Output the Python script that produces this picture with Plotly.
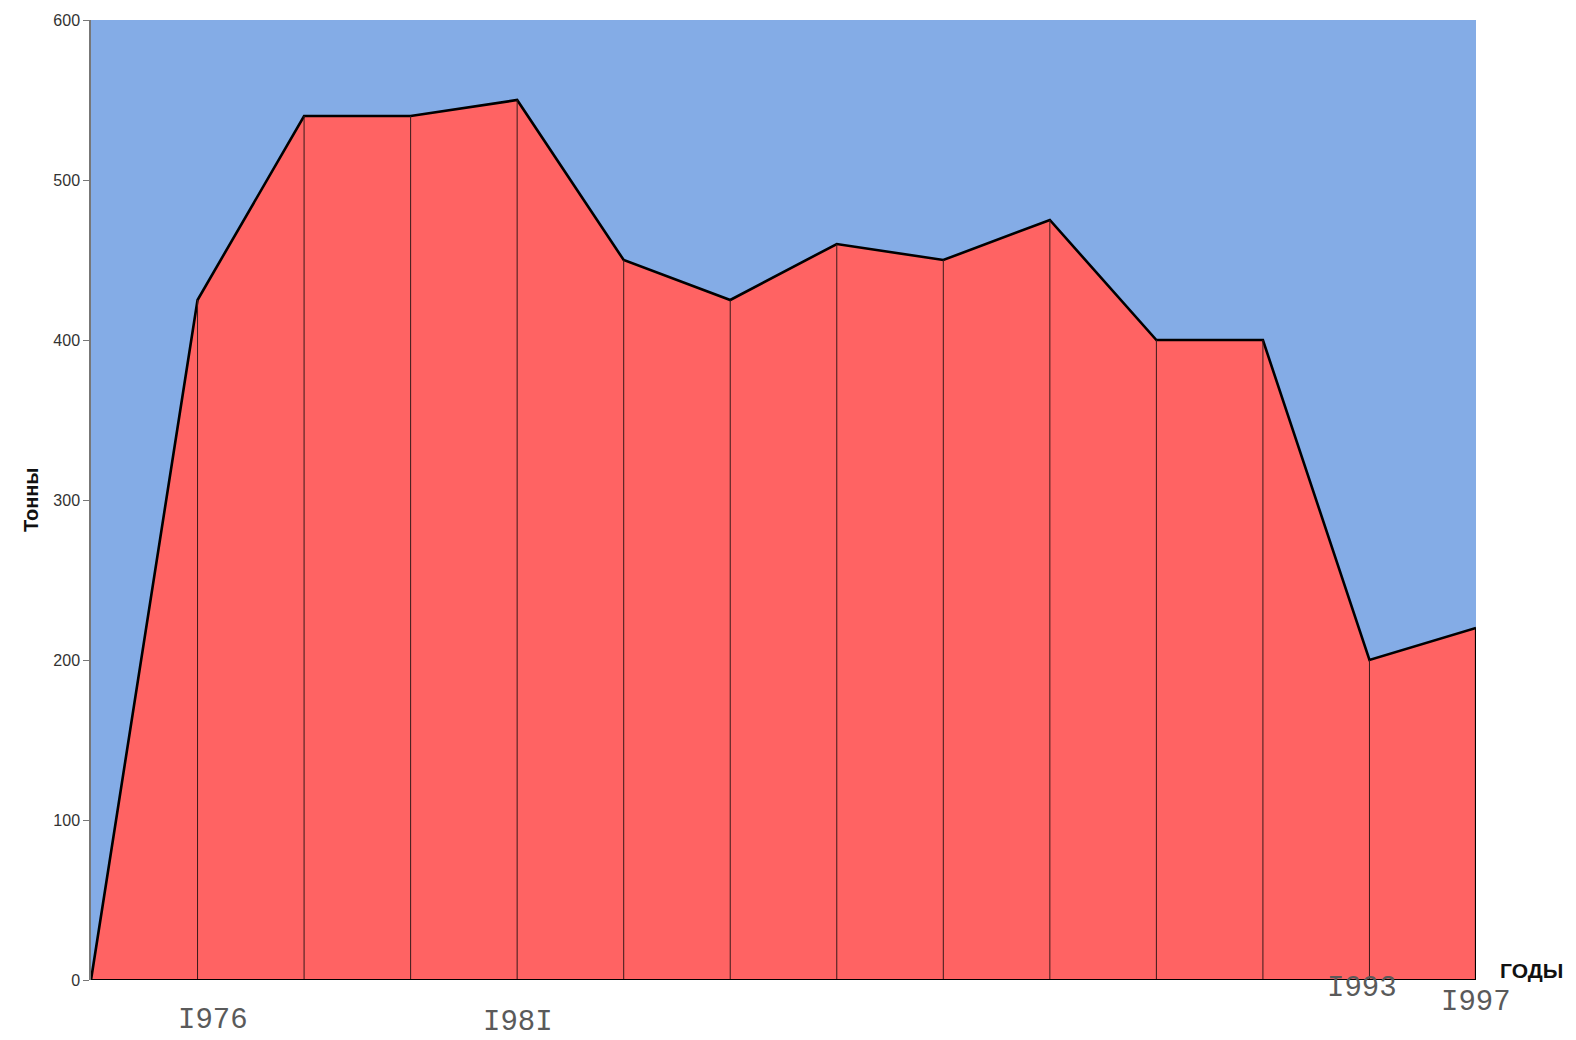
import plotly.graph_objects as go

# Catch per season, tonnes (one point per survey year on the chart)
point_index = [0, 1, 2, 3, 4, 5, 6, 7, 8, 9, 10, 11, 12, 13]
catch_tonnes = [0, 425, 540, 540, 550, 450, 425, 460, 450, 475, 400, 400, 200, 220]

# Typewritten year marks under the axis
year_labels = ["I976", "I98I", "I993", "I997"]
year_label_pos = [1.145, 4.01, 11.93, 13.0]
year_label_dy = [-40, -42, -8, -22]

y_ticks = [0, 100, 200, 300, 400, 500, 600]

fig = go.Figure()

# Filled area with thick outline
fig.add_trace(go.Scatter(
    x=point_index, y=catch_tonnes, mode="lines",
    line=dict(color="black", width=2.6),
    fill="tozeroy", fillcolor="#FF6363",
    hoverinfo="skip", showlegend=False,
))

# Thin drop lines at each point
drop_x, drop_y = [], []
for xi, yi in zip(point_index[1:-1], catch_tonnes[1:-1]):
    drop_x += [xi, xi, None]
    drop_y += [0, yi, None]
fig.add_trace(go.Scatter(
    x=drop_x, y=drop_y, mode="lines",
    line=dict(color="#3a1a1a", width=1),
    hoverinfo="skip", showlegend=False,
))
# Right-hand edge of the area
fig.add_trace(go.Scatter(
    x=[point_index[-1], point_index[-1]], y=[0, catch_tonnes[-1]], mode="lines",
    line=dict(color="black", width=2.2),
    hoverinfo="skip", showlegend=False,
))
# Baseline
fig.add_trace(go.Scatter(
    x=[point_index[0], point_index[-1]], y=[0, 0], mode="lines",
    line=dict(color="black", width=2.2),
    hoverinfo="skip", showlegend=False,
))

annotations = []
for lbl, xp, dy in zip(year_labels, year_label_pos, year_label_dy):
    annotations.append(dict(
        x=xp, y=0, xref="x", yref="y", text=lbl, showarrow=False,
        yanchor="middle", yshift=dy,
        font=dict(family="Liberation Mono, Courier New, monospace", size=29, color="#5a5a5a"),
    ))

annotations.append(dict(
    x=1.0, y=0, xref="paper", yref="y", text="<b>ГОДЫ</b>", showarrow=False,
    xanchor="left", yanchor="middle", xshift=22, yshift=10,
    font=dict(family="Arial, Liberation Sans, sans-serif", size=21, color="#111111"),
))
annotations.append(dict(
    x=0, y=0.5, xref="paper", yref="paper", text="<b>Тонны</b>", showarrow=False,
    xanchor="center", yanchor="middle", xshift=-60, textangle=-90,
    font=dict(family="Arial, Liberation Sans, sans-serif", size=20, color="#111111"),
))
annotations.append(dict(
    x=0.52, y=1.0, xref="paper", yref="paper", yshift=28, yanchor="bottom",
    text="<b>Итоговый улов кумжи в бассейне Онеги за период (1976 - 1997)</b>",
    showarrow=False,
    font=dict(family="Arial, Liberation Sans, sans-serif", size=22, color="#111111"),
))

fig.update_layout(
    width=1576, height=1040,
    margin=dict(l=91, r=100, t=20, b=60),
    paper_bgcolor="white",
    plot_bgcolor="#84ACE6",
    annotations=annotations,
    xaxis=dict(
        range=[point_index[0], point_index[-1]],
        showticklabels=False, showgrid=False, zeroline=False, showline=False,
        ticks="", automargin=False,
    ),
    yaxis=dict(
        range=[0, 600], tickvals=y_ticks, automargin=False,
        showgrid=False, zeroline=False,
        showline=True, linecolor="#777777", linewidth=1.5,
        ticks="outside", ticklen=6, tickcolor="#777777",
        tickfont=dict(family="Arial, Liberation Sans, sans-serif", size=16, color="#333333"),
    ),
)

fig.write_html("out.html")
